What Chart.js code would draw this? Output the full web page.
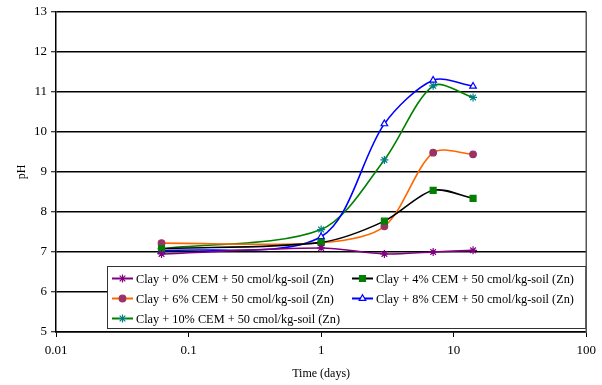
<!DOCTYPE html>
<html lang="en">
<head>
    <meta charset="UTF-8">
    <title>pH vs time</title>
    <script src="https://cdn.jsdelivr.net/npm/chart.js"></script>
    <style>
        body {
            margin: 0;
            background: #fff;
        }
        #wrap {
            width: 602px;
            height: 385px;
        }
    </style>
</head>
<body>
    <div id="wrap"><canvas id="phChart" width="602" height="385"></canvas></div>

    <script>
        // sampling times (days) and measured pH for each mix
        const days = [0.0625, 1, 3, 7, 14];
        const cem0 = [6.95, 7.10, 6.95, 7.00, 7.04];
        const cem4 = [7.08, 7.24, 7.77, 8.54, 8.34];
        const cem6 = [7.22, 7.23, 7.64, 9.48, 9.44];
        const cem8 = [7.02, 7.38, 10.20, 11.29, 11.14];
        const cem10 = [7.08, 7.56, 9.30, 11.15, 10.86];

        const seriesNames = [
            'Clay + 0% CEM + 50 cmol/kg-soil (Zn)',
            'Clay + 4% CEM + 50 cmol/kg-soil (Zn)',
            'Clay + 6% CEM + 50 cmol/kg-soil (Zn)',
            'Clay + 8% CEM + 50 cmol/kg-soil (Zn)',
            'Clay + 10% CEM + 50 cmol/kg-soil (Zn)'
        ];
        const xTicks = [0.01, 0.1, 1, 10, 100];
        const yTicks = [5, 6, 7, 8, 9, 10, 11, 12, 13];

        const serif = 'Liberation Serif, Times New Roman, serif';

        function pts(vals) {
            return days.map((d, i) => ({ x: d, y: vals[i] }));
        }

        function series(label, vals, line, style, fill, stroke, radius) {
            return {
                label: label,
                data: pts(vals),
                borderColor: line,
                borderWidth: 1.6,
                tension: 0.3,
                pointStyle: style,
                pointRadius: radius,
                pointBackgroundColor: fill,
                pointBorderColor: stroke,
                pointBorderWidth: 1.2
            };
        }

        // legend drawn inside the plot area, two columns
        const insideLegend = {
            id: 'insideLegend',
            afterDraw(chart) {
                const c = chart.ctx;
                const area = chart.chartArea;
                const box = { x: 107, y: 266, w: area.right - 107, h: 62 };
                c.save();
                c.fillStyle = '#fff';
                c.fillRect(box.x, box.y, box.w, box.h);
                c.strokeStyle = '#333';
                c.lineWidth = 1;
                c.strokeRect(box.x + 0.5, box.y + 0.5, box.w - 1, box.h);
                c.font = '12.3px ' + serif;
                c.textBaseline = 'middle';
                c.fillStyle = '#000';
                const cols = [112, 352];
                chart.data.datasets.forEach((ds, i) => {
                    const lx = cols[i % 2];
                    const ly = 278.5 + Math.floor(i / 2) * 20;
                    c.strokeStyle = ds.borderColor;
                    c.lineWidth = 2;
                    c.beginPath();
                    c.moveTo(lx, ly);
                    c.lineTo(lx + 21, ly);
                    c.stroke();
                    c.fillStyle = ds.pointBackgroundColor;
                    c.strokeStyle = ds.pointBorderColor;
                    c.lineWidth = 1.2;
                    Chart.helpers.drawPoint(c, {
                        pointStyle: ds.pointStyle,
                        radius: ds.pointRadius,
                        borderWidth: 1.2,
                        rotation: 0
                    }, lx + 10.5, ly);
                    c.fillStyle = '#000';
                    c.fillText(ds.label, lx + 24, ly + 1);
                });
                // plot frame, right side
                c.strokeStyle = '#555';
                c.lineWidth = 1.5;
                c.beginPath();
                c.moveTo(area.right, area.top);
                c.lineTo(area.right, area.bottom + 1);
                c.stroke();
                c.restore();
            }
        };

        const ctx = document.getElementById('phChart').getContext('2d');
        const phChart = new Chart(ctx, {
            type: 'line',
            data: {
                datasets: [
                    series(seriesNames[0], cem0, '#800080', 'star', '#800080', '#800080', 4),
                    series(seriesNames[1], cem4, '#000000', 'rect', '#008000', '#008000', 4.2),
                    series(seriesNames[2], cem6, '#FF6600', 'circle', '#993366', '#993366', 3.3),
                    series(seriesNames[3], cem8, '#0000FF', 'triangle', '#ffffff', '#0000FF', 3.8),
                    series(seriesNames[4], cem10, '#008000', 'star', '#008080', '#008080', 4)
                ]
            },
            options: {
                responsive: false,
                animation: false,
                layout: { padding: { left: 0, top: 10, right: 15, bottom: 0 } },
                plugins: {
                    legend: { display: false },
                    tooltip: { enabled: false }
                },
                scales: {
                    x: {
                        type: 'logarithmic',
                        min: 0.01,
                        max: 100,
                        afterBuildTicks: (scale) => {
                            scale.ticks = xTicks.map(v => ({ value: v }));
                        },
                        afterFit: (scale) => { scale.height = 53; },
                        grid: {
                            drawOnChartArea: false,
                            color: '#000',
                            tickLength: 5,
                            tickWidth: 1
                        },
                        border: { color: '#000', width: 1.5 },
                        ticks: {
                            color: '#000',
                            font: { family: serif, size: 13 },
                            padding: 6,
                            maxRotation: 0,
                            callback: (v) => String(v)
                        },
                        title: {
                            display: true,
                            text: 'Time (days)',
                            color: '#000',
                            font: { family: serif, size: 12 },
                            padding: { top: 0, bottom: 4 }
                        }
                    },
                    y: {
                        min: 5,
                        max: 13,
                        afterBuildTicks: (scale) => {
                            scale.ticks = yTicks.map(v => ({ value: v }));
                        },
                        afterFit: (scale) => { scale.width = 56; },
                        grid: {
                            color: '#000',
                            lineWidth: 1.5,
                            tickLength: 5,
                            tickWidth: 1
                        },
                        border: { color: '#000', width: 1.5 },
                        ticks: {
                            color: '#000',
                            font: { family: serif, size: 13 },
                            padding: 4
                        },
                        title: {
                            display: true,
                            text: 'pH',
                            color: '#000',
                            font: { family: serif, size: 12 },
                            padding: { top: 15, bottom: 0 }
                        }
                    }
                }
            },
            plugins: [insideLegend]
        });
    </script>
</body>
</html>
